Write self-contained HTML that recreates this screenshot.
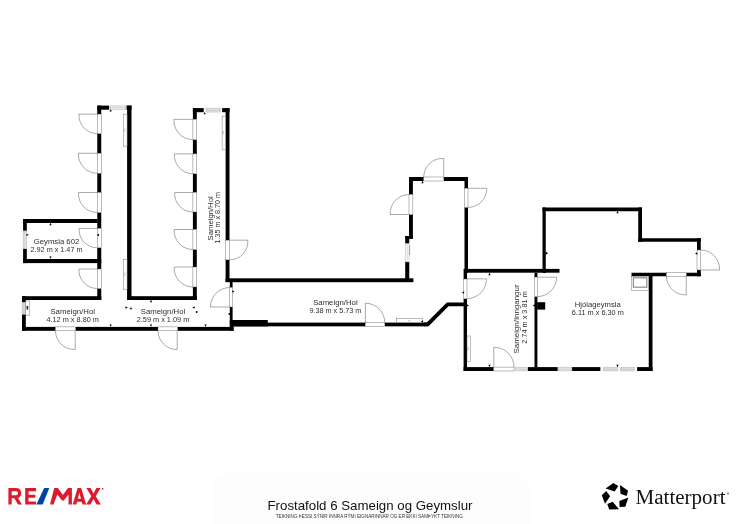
<!DOCTYPE html>
<html><head><meta charset="utf-8"><title>Frostafold 6 Sameign og Geymslur</title>
<style>
html,body{margin:0;padding:0;background:#fff;}
body{width:741px;height:524px;overflow:hidden;font-family:"Liberation Sans",sans-serif;}
svg{display:block;}
svg{font-family:"Liberation Sans",sans-serif;fill:#2e2e2e;}
</style></head>
<body>
<svg width="741" height="524" viewBox="0 0 741 524">
<rect width="741" height="524" fill="#fff"/>
<g fill="#000"><rect x="97.25" y="105.60" width="4.00" height="8.50"/><rect x="97.25" y="133.60" width="4.00" height="19.65"/><rect x="97.25" y="173.25" width="4.00" height="19.25"/><rect x="97.25" y="212.50" width="4.00" height="15.90"/><rect x="97.25" y="247.80" width="4.00" height="21.20"/><rect x="97.25" y="288.50" width="4.00" height="11.50"/><rect x="97.25" y="105.60" width="11.85" height="4.10"/><rect x="126.50" y="105.60" width="5.00" height="4.10"/><rect x="127.10" y="105.60" width="4.40" height="194.40"/><rect x="127.10" y="296.20" width="69.70" height="3.80"/><rect x="192.90" y="108.10" width="3.90" height="11.30"/><rect x="192.90" y="139.60" width="3.90" height="14.30"/><rect x="192.90" y="173.75" width="3.90" height="18.75"/><rect x="192.90" y="212.00" width="3.90" height="17.50"/><rect x="192.90" y="249.50" width="3.90" height="17.50"/><rect x="192.90" y="287.00" width="3.90" height="13.00"/><rect x="192.90" y="108.10" width="10.80" height="4.10"/><rect x="222.10" y="108.10" width="7.40" height="4.10"/><rect x="225.60" y="108.10" width="3.90" height="132.10"/><rect x="225.60" y="259.90" width="3.90" height="22.10"/><rect x="225.60" y="278.30" width="187.80" height="3.90"/><rect x="405.20" y="262.00" width="4.05" height="20.00"/><rect x="405.20" y="236.00" width="7.80" height="2.70"/><rect x="405.20" y="236.00" width="4.05" height="7.60"/><rect x="409.00" y="177.00" width="3.90" height="17.50"/><rect x="409.00" y="214.50" width="3.90" height="24.20"/><rect x="409.00" y="177.00" width="14.75" height="4.00"/><rect x="443.75" y="177.00" width="24.25" height="4.00"/><rect x="464.50" y="177.00" width="3.50" height="11.30"/><rect x="464.50" y="207.40" width="3.50" height="65.30"/><rect x="464.50" y="268.90" width="95.00" height="3.80"/><rect x="463.60" y="268.90" width="3.40" height="10.10"/><rect x="463.60" y="298.70" width="3.40" height="72.30"/><rect x="233.00" y="322.60" width="132.30" height="3.75"/><rect x="384.80" y="322.60" width="42.70" height="3.75"/><rect x="229.80" y="320.00" width="37.95" height="6.35"/><rect x="229.80" y="282.00" width="2.80" height="5.50"/><rect x="229.80" y="307.00" width="2.80" height="13.00"/><rect x="229.80" y="320.00" width="3.70" height="10.80"/><rect x="22.00" y="296.20" width="79.25" height="3.80"/><rect x="22.00" y="296.20" width="3.80" height="6.20"/><rect x="22.00" y="314.30" width="3.80" height="16.50"/><rect x="22.00" y="326.90" width="33.50" height="3.90"/><rect x="75.50" y="326.90" width="82.50" height="3.90"/><rect x="177.50" y="326.90" width="56.00" height="3.90"/><rect x="23.10" y="219.00" width="74.40" height="4.00"/><rect x="23.10" y="219.00" width="3.70" height="11.90"/><rect x="23.10" y="248.70" width="3.70" height="14.40"/><rect x="23.10" y="259.00" width="78.15" height="4.10"/><rect x="463.60" y="367.10" width="30.10" height="3.90"/><rect x="527.80" y="367.10" width="29.90" height="3.90"/><rect x="572.00" y="367.10" width="28.40" height="3.90"/><rect x="637.10" y="367.10" width="15.40" height="3.90"/><rect x="534.50" y="272.70" width="2.90" height="4.40"/><rect x="534.50" y="296.60" width="2.90" height="70.40"/><rect x="537.20" y="302.20" width="8.00" height="7.40"/><rect x="648.75" y="273.00" width="3.75" height="98.00"/><rect x="542.50" y="207.50" width="99.50" height="3.75"/><rect x="542.50" y="207.50" width="3.25" height="65.50"/><rect x="638.25" y="207.50" width="3.75" height="34.25"/><rect x="638.25" y="238.25" width="62.50" height="3.50"/><rect x="697.00" y="238.25" width="3.75" height="11.75"/><rect x="697.00" y="270.00" width="3.75" height="6.25"/><rect x="631.50" y="272.75" width="35.00" height="3.50"/><rect x="686.25" y="272.75" width="14.50" height="3.50"/><polygon points="426.7,322.6 446.9,302.5 464.4,302.5 464.4,306.2 448.5,306.2 428.6,326.35 424,326.35 424,322.6"/></g>
<g><rect x="97.25" y="114.1" width="4.0" height="19.5" fill="#fff" stroke="#555" stroke-width="0.4"/><path d="M97.25 114.1 L78.95 114.1 A18.30 18.30 0 0 0 97.25 133.6" fill="none" stroke="#555" stroke-width="0.5"/><rect x="97.25" y="153.25" width="4.0" height="20.0" fill="#fff" stroke="#555" stroke-width="0.4"/><path d="M97.25 153.25 L78.45 153.25 A18.80 18.80 0 0 0 97.25 173.25" fill="none" stroke="#555" stroke-width="0.5"/><rect x="97.25" y="192.5" width="4.0" height="20.0" fill="#fff" stroke="#555" stroke-width="0.4"/><path d="M97.25 192.5 L78.45 192.5 A18.80 18.80 0 0 0 97.25 212.5" fill="none" stroke="#555" stroke-width="0.5"/><rect x="97.25" y="228.4" width="4.0" height="19.400000000000006" fill="#fff" stroke="#555" stroke-width="0.4"/><path d="M97.25 228.4 L79.05 228.4 A18.20 18.20 0 0 0 97.25 247.8" fill="none" stroke="#555" stroke-width="0.5"/><rect x="97.25" y="269" width="4.0" height="19.5" fill="#fff" stroke="#555" stroke-width="0.4"/><path d="M97.25 269 L78.95 269 A18.30 18.30 0 0 0 97.25 288.5" fill="none" stroke="#555" stroke-width="0.5"/><rect x="192.9" y="119.4" width="3.9000000000000057" height="20.19999999999999" fill="#fff" stroke="#555" stroke-width="0.4"/><path d="M192.9 119.4 L174.00000000000003 119.4 A18.90 18.90 0 0 0 192.9 139.6" fill="none" stroke="#555" stroke-width="0.5"/><rect x="192.9" y="153.9" width="3.9000000000000057" height="19.849999999999994" fill="#fff" stroke="#555" stroke-width="0.4"/><path d="M192.9 153.9 L174.35000000000002 153.9 A18.55 18.55 0 0 0 192.9 173.75" fill="none" stroke="#555" stroke-width="0.5"/><rect x="192.9" y="192.5" width="3.9000000000000057" height="19.5" fill="#fff" stroke="#555" stroke-width="0.4"/><path d="M192.9 192.5 L174.70000000000002 192.5 A18.20 18.20 0 0 0 192.9 212" fill="none" stroke="#555" stroke-width="0.5"/><rect x="192.9" y="229.5" width="3.9000000000000057" height="20.0" fill="#fff" stroke="#555" stroke-width="0.4"/><path d="M192.9 229.5 L174.20000000000002 229.5 A18.70 18.70 0 0 0 192.9 249.5" fill="none" stroke="#555" stroke-width="0.5"/><rect x="192.9" y="267" width="3.9000000000000057" height="20" fill="#fff" stroke="#555" stroke-width="0.4"/><path d="M192.9 267 L174.20000000000002 267 A18.70 18.70 0 0 0 192.9 287" fill="none" stroke="#555" stroke-width="0.5"/><rect x="225.6" y="240.2" width="3.9000000000000057" height="19.69999999999999" fill="#fff" stroke="#555" stroke-width="0.4"/><path d="M229.5 240.2 L247.8 240.2 A18.30 18.30 0 0 1 229.5 259.9" fill="none" stroke="#555" stroke-width="0.5"/><rect x="229.8" y="287.5" width="2.799999999999983" height="19.5" fill="#fff" stroke="#555" stroke-width="0.4"/><path d="M229.8 307 L210.5 307 A19.30 19.30 0 0 1 229.8 287.5" fill="none" stroke="#555" stroke-width="0.5"/><rect x="55.5" y="326.9" width="20.0" height="3.900000000000034" fill="#fff" stroke="#555" stroke-width="0.4"/><path d="M75.2 330.8 L75.2 349.5 A18.70 18.70 0 0 1 55.5 330.8" fill="none" stroke="#555" stroke-width="0.5"/><rect x="158" y="326.9" width="19.5" height="3.900000000000034" fill="#fff" stroke="#555" stroke-width="0.4"/><path d="M177.2 330.8 L177.2 349.5 A18.70 18.70 0 0 1 158 330.8" fill="none" stroke="#555" stroke-width="0.5"/><rect x="423.75" y="177" width="20.0" height="4" fill="#fff" stroke="#555" stroke-width="0.4"/><path d="M443.75 177 L443.75 158.5 A18.50 18.50 0 0 0 423.75 177" fill="none" stroke="#555" stroke-width="0.5"/><rect x="409" y="194.5" width="3.8999999999999773" height="20.0" fill="#fff" stroke="#555" stroke-width="0.4"/><path d="M409 214.5 L390.2 214.5 A18.80 18.80 0 0 1 409 194.5" fill="none" stroke="#555" stroke-width="0.5"/><rect x="464.5" y="188.3" width="3.5" height="19.099999999999994" fill="#fff" stroke="#555" stroke-width="0.4"/><path d="M468 188.3 L486.8 188.3 A18.80 18.80 0 0 1 468 207.4" fill="none" stroke="#555" stroke-width="0.5"/><rect x="463.6" y="279" width="3.3999999999999773" height="19.69999999999999" fill="#fff" stroke="#555" stroke-width="0.4"/><path d="M467 278.8 L486.5 278.8 A19.50 19.50 0 0 1 467 298.6" fill="none" stroke="#555" stroke-width="0.5"/><rect x="365.3" y="322.6" width="19.5" height="3.75" fill="#fff" stroke="#555" stroke-width="0.4"/><path d="M365.4 322.6 L365.4 303.2 A19.40 19.40 0 0 1 384.8 322.6" fill="none" stroke="#555" stroke-width="0.5"/><rect x="493.7" y="367.1" width="20.30000000000001" height="3.8999999999999773" fill="#fff" stroke="#555" stroke-width="0.4"/><path d="M493.8 367.1 L493.8 347.3 A19.80 19.80 0 0 1 514 367.1" fill="none" stroke="#555" stroke-width="0.5"/><rect x="534.5" y="277.1" width="2.8999999999999773" height="19.5" fill="#fff" stroke="#555" stroke-width="0.4"/><path d="M537.4 277.2 L556.6 277.2 A19.20 19.20 0 0 1 537.4 296.6" fill="none" stroke="#555" stroke-width="0.5"/><rect x="697" y="250" width="3.75" height="20" fill="#fff" stroke="#555" stroke-width="0.4"/><path d="M700.75 270 L719.5 270 A18.75 18.75 0 0 0 700.75 250" fill="none" stroke="#555" stroke-width="0.5"/><rect x="666.5" y="272.75" width="19.75" height="3.5" fill="#fff" stroke="#555" stroke-width="0.4"/><path d="M686.25 276.25 L686.25 294.8 A18.55 18.55 0 0 1 666.5 276.25" fill="none" stroke="#555" stroke-width="0.5"/><rect x="110" y="105.6" width="15.5" height="4.1000000000000085" fill="#f4f4f4"/><path d="M110 105.8 H125.5 M110 109.5 H125.5 M110 107.65 H125.5 M110 105.6 V109.7 M125.5 105.6 V109.7" stroke="#9a9a9a" stroke-width="0.4" fill="none"/><rect x="206" y="108.1" width="14.300000000000011" height="4.1000000000000085" fill="#eaeaea"/><path d="M206 108.3 H220.3 M206 112.0 H220.3 M206 110.15 H220.3 M206 108.1 V112.2 M220.3 108.1 V112.2" stroke="#9a9a9a" stroke-width="0.4" fill="none"/><rect x="23.1" y="230.9" width="3.6999999999999993" height="17.799999999999983" fill="#ececec"/><path d="M23.3 230.9 V248.7 M26.6 230.9 V248.7 M24.950000000000003 230.9 V248.7 M23.1 230.9 H26.8 M23.1 248.7 H26.8" stroke="#9a9a9a" stroke-width="0.4" fill="none"/><rect x="22" y="302.4" width="3.8000000000000007" height="11.900000000000034" fill="#e2e2e2"/><path d="M22.2 302.4 V314.3 M25.6 302.4 V314.3 M23.9 302.4 V314.3 M22 302.4 H25.8 M22 314.3 H25.8" stroke="#9a9a9a" stroke-width="0.4" fill="none"/><rect x="405.2" y="243.6" width="4.050000000000011" height="18.400000000000006" fill="#fff"/><path d="M405.4 243.6 V262 M409.05 243.6 V262 M407.225 243.6 V262 M405.2 243.6 H409.25 M405.2 262 H409.25" stroke="#9a9a9a" stroke-width="0.4" fill="none"/><path d="M409.7 245 V255" stroke="#555" stroke-width="0.5"/><rect x="515.5" y="367.2" width="12.100000000000023" height="3.8000000000000114" fill="#eeeeee"/><path d="M515.5 367.4 H527.6 M515.5 370.8 H527.6 M515.5 369.1 H527.6 M515.5 367.2 V371 M527.6 367.2 V371" stroke="#9a9a9a" stroke-width="0.4" fill="none"/><rect x="558" y="367.2" width="14" height="3.8000000000000114" fill="#eeeeee"/><path d="M558 367.4 H572 M558 370.8 H572 M558 369.1 H572 M558 367.2 V371 M572 367.2 V371" stroke="#9a9a9a" stroke-width="0.4" fill="none"/><rect x="603.4" y="367.2" width="14.200000000000045" height="3.8000000000000114" fill="#e6e6e6"/><path d="M603.4 367.4 H617.6 M603.4 370.8 H617.6 M603.4 369.1 H617.6 M603.4 367.2 V371 M617.6 367.2 V371" stroke="#9a9a9a" stroke-width="0.4" fill="none"/><rect x="620.4" y="367.2" width="14.0" height="3.8000000000000114" fill="#e6e6e6"/><path d="M620.4 367.4 H634.4 M620.4 370.8 H634.4 M620.4 369.1 H634.4 M620.4 367.2 V371 M634.4 367.2 V371" stroke="#9a9a9a" stroke-width="0.4" fill="none"/><rect x="123.7" y="114.1" width="3.3999999999999915" height="32.0" fill="#fff" stroke="#555" stroke-width="0.4"/><path d="M124.80000000000001 128.5 q1.2 0.8 0 1.6 q-1.2 0.8 0 1.6" fill="none" stroke="#666" stroke-width="0.45"/><rect x="123.7" y="259.2" width="3.3999999999999915" height="30.100000000000023" fill="#fff" stroke="#555" stroke-width="0.4"/><path d="M124.80000000000001 272.65 q1.2 0.8 0 1.6 q-1.2 0.8 0 1.6" fill="none" stroke="#666" stroke-width="0.45"/><rect x="222.1" y="116.1" width="3.5" height="33.30000000000001" fill="#fff" stroke="#555" stroke-width="0.4"/><path d="M223.25 131.15 q1.2 0.8 0 1.6 q-1.2 0.8 0 1.6" fill="none" stroke="#666" stroke-width="0.45"/><rect x="396.75" y="318.25" width="25.75" height="4.25" fill="#fff" stroke="#555" stroke-width="0.4"/><path d="M408.025 320.875 q0.8 -1.2 1.6 0 q0.8 1.2 1.6 0" fill="none" stroke="#666" stroke-width="0.45"/><rect x="467" y="336" width="3.6999999999999886" height="25.69999999999999" fill="#fff" stroke="#555" stroke-width="0.4"/><path d="M468.25 347.25 q1.2 0.8 0 1.6 q-1.2 0.8 0 1.6" fill="none" stroke="#666" stroke-width="0.45"/><rect x="25.8" y="301" width="4.0" height="14.5" fill="#fff" stroke="#555" stroke-width="0.4"/><rect x="26.6" y="306" width="1.6" height="3.5" fill="#222"/><rect x="631.7" y="276.25" width="16.8" height="14.2" fill="#fff" stroke="#555" stroke-width="0.4"/><rect x="633.4" y="277.8" width="13.4" height="9.4" fill="#fff" stroke="#8c8c8c" stroke-width="1.2"/><polygon points="109.44999999999999,111.55000000000001 111.75,111.55000000000001 110.6,109.25" fill="#000"/><polygon points="203.54999999999998,114.25 205.85,114.25 204.7,111.94999999999999" fill="#000"/><polygon points="49.35,225.15 51.65,225.15 50.5,222.85" fill="#000"/><polygon points="49.35,256.45000000000005 51.65,256.45000000000005 50.5,258.75" fill="#000"/><polygon points="109.44999999999999,324.45000000000005 111.75,324.45000000000005 110.6,326.75" fill="#000"/><polygon points="149.85,302.15 152.15,302.15 151,299.85" fill="#000"/><polygon points="149.85,324.45000000000005 152.15,324.45000000000005 151,326.75" fill="#000"/><polygon points="125.44999999999999,306.35 125.44999999999999,308.65 127.75,307.5" fill="#000"/><polygon points="131.65,307.35 131.65,309.65 129.35,308.5" fill="#000"/><polygon points="194.65,306.35 194.65,308.65 192.35,307.5" fill="#000"/><polygon points="195.85,310.85 195.85,313.15 198.15,312" fill="#000"/><polygon points="204.35,324.45000000000005 206.65,324.45000000000005 205.5,326.75" fill="#000"/><polygon points="230.15,312.85 230.15,315.15 227.85,314" fill="#000"/><polygon points="232.35,290.35 232.35,292.65 234.65,291.5" fill="#000"/><polygon points="26.450000000000003,233.65 26.450000000000003,235.95000000000002 28.75,234.8" fill="#000"/><polygon points="98.95,233.85 98.95,236.15 96.64999999999999,235" fill="#000"/><polygon points="421.35,183.15 423.65,183.15 422.5,180.85" fill="#000"/><polygon points="488.35,275.15 490.65,275.15 489.5,272.85" fill="#000"/><polygon points="488.35,364.85 490.65,364.85 489.5,367.15" fill="#000"/><polygon points="616.35,213.35 618.65,213.35 617.5,211.04999999999998" fill="#000"/><polygon points="545.5500000000001,252.35 545.5500000000001,254.65 547.85,253.5" fill="#000"/><polygon points="697.35,252.35 697.35,254.65 695.0500000000001,253.5" fill="#000"/><polygon points="464.15,291.35 464.15,293.65 461.85,292.5" fill="#000"/><polygon points="466.65000000000003,304.35 466.65000000000003,306.65 468.95,305.5" fill="#000"/><polygon points="534.9499999999999,304.35 534.9499999999999,306.65 532.65,305.5" fill="#000"/><polygon points="545.65,251.85 545.65,254.15 547.9499999999999,253" fill="#000"/><polygon points="616.35,364.85 618.65,364.85 617.5,367.15" fill="#000"/><polygon points="423.15,320.35 423.15,322.65 420.85,321.5" fill="#000"/></g>
<g opacity="0.999" style="will-change:opacity"><text x="56.5" y="244.0" text-anchor="middle" font-size="7.0" textLength="45.5" lengthAdjust="spacingAndGlyphs">Geymsla 602</text><text x="56.5" y="252.15" text-anchor="middle" font-size="6.7" textLength="52" lengthAdjust="spacingAndGlyphs">2.92 m x 1.47 m</text><text x="72.7" y="314.25" text-anchor="middle" font-size="7.0" textLength="44.5" lengthAdjust="spacingAndGlyphs">Sameign/Hol</text><text x="72.7" y="322.15" text-anchor="middle" font-size="6.7" textLength="52.5" lengthAdjust="spacingAndGlyphs">4.12 m x 8.80 m</text><text x="163" y="314.25" text-anchor="middle" font-size="7.0" textLength="44.5" lengthAdjust="spacingAndGlyphs">Sameign/Hol</text><text x="163" y="322.15" text-anchor="middle" font-size="6.7" textLength="52.5" lengthAdjust="spacingAndGlyphs">2.59 m x 1.09 m</text><text x="335.4" y="304.5" text-anchor="middle" font-size="7.0" textLength="44.5" lengthAdjust="spacingAndGlyphs">Sameign/Hol</text><text x="335.4" y="313.15" text-anchor="middle" font-size="6.7" textLength="52" lengthAdjust="spacingAndGlyphs">9.38 m x 5.73 m</text><text x="597.8" y="307.25" text-anchor="middle" font-size="7.0" textLength="46" lengthAdjust="spacingAndGlyphs">Hjólageymsla</text><text x="597.8" y="315.0" text-anchor="middle" font-size="6.7" textLength="52" lengthAdjust="spacingAndGlyphs">6.11 m x 6.30 m</text><g transform="translate(212.6 218.4) rotate(-90)"><text x="0" y="0" text-anchor="middle" font-size="7.0" textLength="44.2" lengthAdjust="spacingAndGlyphs">Sameign/Hol</text></g><g transform="translate(220.3 217.8) rotate(-90)"><text x="0" y="0" text-anchor="middle" font-size="6.7" textLength="51.5" lengthAdjust="spacingAndGlyphs">1.35 m x 8.70 m</text></g><g transform="translate(519.1 319) rotate(-90)"><text x="0" y="0" text-anchor="middle" font-size="7.0" textLength="69.1" lengthAdjust="spacingAndGlyphs">Sameign/Inngangur</text></g><g transform="translate(526.9 317.5) rotate(-90)"><text x="0" y="0" text-anchor="middle" font-size="6.7" textLength="52.6" lengthAdjust="spacingAndGlyphs">2.74 m x 3.81 m</text></g></g>

<g fill="#dc1c2e">
<path fill-rule="evenodd" d="M8.4 488.1 H16.2 A5.1 5.1 0 0 1 18.1 497.9 L21.9 504.5 H18 L14.4 498.3 H11.7 V504.5 H8.4Z M11.7 491.2 V495.3 H16 A2.05 2.05 0 0 0 16 491.2Z"/>
<path d="M25.2 488.1 H36 V491.2 H28.5 V494.8 H35.3 V497.8 H28.5 V501.4 H36.1 V504.5 H25.2Z"/>
<path d="M50 504.5 L54.2 488.1 H57.9 L62.9 494.9 L67.9 488.1 H71.9 V504.5 H68.5 V494.4 L63.8 500.6 H62 L57.3 494.4 L53.5 504.5Z"/>
<path fill-rule="evenodd" d="M72.7 504.5 L77.6 488.1 H81.2 L86.1 504.5 H82.5 L81.7 501.8 H77.1 L76.3 504.5Z M79.4 492.4 L77.9 498.8 H80.9Z"/>
<path d="M86.4 488.1 H90.6 L93.5 493.4 L96.4 488.1 H100.6 L95.7 496.2 L100.9 504.5 H96.6 L93.5 499.1 L90.4 504.5 H86.1 L91.3 496.2Z"/>
<circle cx="102.7" cy="488.9" r="0.8"/>
</g>
<polygon points="36.4,504.5 42.7,504.5 49.3,488.1 44.2,488.1" fill="#0043a8"/>
<rect x="212" y="473" width="318" height="70" rx="20" ry="16" fill="#fdfdfd"/>
<g opacity="0.999" style="will-change:opacity">
<text x="370" y="510.05" text-anchor="middle" font-size="12.8" style="fill:#111" textLength="205" lengthAdjust="spacingAndGlyphs">Frostafold 6 Sameign og Geymslur</text>
<text x="369.3" y="517.9" text-anchor="middle" font-size="4.8" style="fill:#333" textLength="187" lengthAdjust="spacingAndGlyphs">TEIKNING ÞESSI SÝNIR INNRA RÝMI EIGNARINNAR OG ER EKKI SAMÞYKT TEIKNING</text>
</g>
<g fill="#000">
<polygon points="605.7,488.6 613.3,482.9 618.3,486.1 614.6,491.5"/>
<polygon points="619.9,485 628.1,490.7 626.6,496.1 620.5,493.8"/>
<polygon points="619.3,501 628.4,497.5 625.3,506.8 619.6,507.1"/>
<polygon points="607.3,504.1 612.7,501.8 619,509.2 609.2,509.5"/>
<polygon points="601.8,495.3 606.2,491.1 610.1,496.2 605,503.8"/>
</g>
<g opacity="0.999" style="will-change:opacity"><text x="635.5" y="503.75" style="font-family:'Liberation Serif',serif;fill:#111" font-size="20.8" textLength="90" lengthAdjust="spacingAndGlyphs">Matterport</text></g>
<circle cx="728" cy="493.4" r="0.9" fill="#555"/>

</svg>
</body></html>
